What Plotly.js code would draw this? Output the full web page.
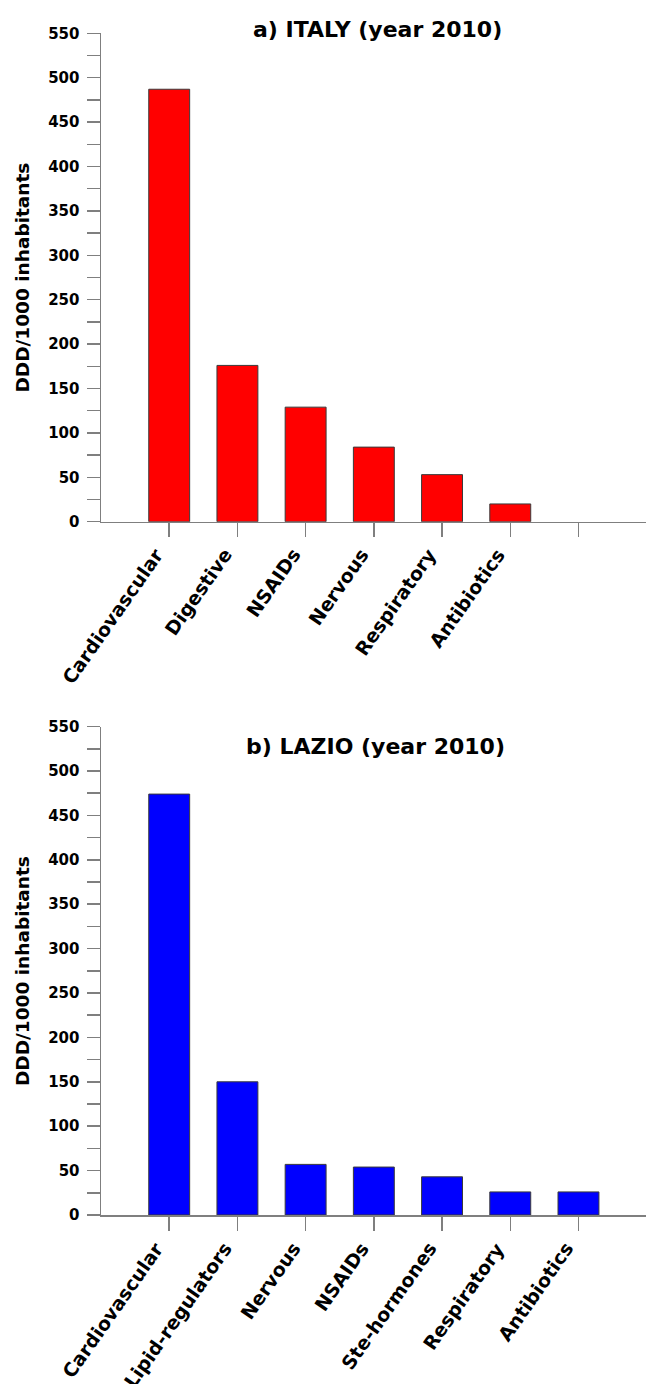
<!DOCTYPE html>
<html>
<head>
<meta charset="utf-8">
<script src="https://cdn.plot.ly/plotly-3.0.1.min.js"></script>
<style>html,body{margin:0;padding:0;background:#fff;}#chart{width:646px;height:1384px;}</style>
</head>
<body>
<div id="chart"></div>
<script>
// ---- data ----
const italyCategories = ["Cardiovascular", "Digestive", "NSAIDs", "Nervous", "Respiratory", "Antibiotics"];
const italyValues = [487, 176, 129, 84, 53, 20];
const lazioCategories = ["Cardiovascular", "Lipid-regulators", "Nervous", "NSAIDs", "Ste-hormones", "Respiratory", "Antibiotics"];
const lazioValues = [474, 150, 57, 54, 43, 26, 26];
const titleA = "a) ITALY (year 2010)";
const titleB = "b) LAZIO (year 2010)";
const yTitle = "DDD/1000 inhabitants";

// ---- layout helpers ----
const W = 646, H = 1384;
const FONT = "DejaVu Sans, Liberation Sans, Arial, sans-serif";
const GREY = "#7f7f7f";
const px2y = p => 1 - p / H;

const nTicks = 7; // both panels show 7 category ticks
const tickIdx = Array.from({length: nTicks}, (_, i) => i);

function xAxis(anchor) {
  return {
    anchor: anchor,
    domain: [101 / W, 1],
    range: [-1, 6.99],
    tickmode: "array",
    tickvals: tickIdx,
    showticklabels: false,
    ticks: "outside",
    ticklen: 14,
    tickwidth: 1.5,
    tickcolor: GREY,
    showline: true,
    linecolor: GREY,
    linewidth: 1.5,
    showgrid: false,
    zeroline: false,
    fixedrange: true
  };
}
function yAxis(anchor, top, bottom) {
  return {
    anchor: anchor,
    domain: [px2y(bottom), px2y(top)],
    range: [0, 550],
    tick0: 0,
    dtick: 50,
    ticks: "outside",
    ticklen: 13,
    tickwidth: 1.5,
    tickcolor: GREY,
    minor: {dtick: 25, tick0: 0, ticks: "outside", ticklen: 13, tickwidth: 1.5, tickcolor: GREY, showgrid: false},
    showline: true,
    linecolor: GREY,
    linewidth: 1.5,
    showgrid: false,
    zeroline: false,
    fixedrange: true,
    ticklabelstandoff: 4,
    tickfont: {family: FONT, size: 15, color: "#000", weight: "bold"}
  };
}

const traces = [
  {
    type: "bar",
    x: italyValues.map((_, i) => i),
    y: italyValues,
    width: 0.6,
    marker: {color: "#ff0000", line: {color: "#3a3a3a", width: 1}},
    xaxis: "x", yaxis: "y",
    hoverinfo: "skip"
  },
  {
    type: "bar",
    x: lazioValues.map((_, i) => i),
    y: lazioValues,
    width: 0.6,
    marker: {color: "#0000ff", line: {color: "#3a3a3a", width: 1}},
    xaxis: "x2", yaxis: "y2",
    hoverinfo: "skip"
  }
];

const labelFont = {family: FONT, size: 19, color: "#000", weight: "bold"};
function catLabels(cats, xref, topPx) {
  return cats.map((c, i) => ({
    text: c, xref: xref, yref: "paper", x: i, y: px2y(topPx),
    xanchor: "right", yanchor: "top", textangle: -55, showarrow: false,
    xshift: 0, borderpad: 0, font: labelFont
  }));
}

const layout = {
  width: W, height: H,
  margin: {l: 0, r: 0, t: 0, b: 0, pad: 0},
  paper_bgcolor: "#fff", plot_bgcolor: "#fff",
  showlegend: false,
  xaxis: xAxis("y"),
  yaxis: yAxis("x", 33.3, 521.7),
  xaxis2: xAxis("y2"),
  yaxis2: yAxis("x2", 726.6, 1215),
  annotations: [
    {text: titleA, xref: "paper", yref: "paper", x: 377 / W, y: px2y(29), xanchor: "center", yanchor: "middle", showarrow: false,
     font: {family: FONT, size: 22, color: "#000", weight: "bold"}},
    {text: titleB, xref: "paper", yref: "paper", x: 375 / W, y: px2y(746), xanchor: "center", yanchor: "middle", showarrow: false,
     font: {family: FONT, size: 22, color: "#000", weight: "bold"}},
    {text: yTitle, xref: "paper", yref: "paper", x: 22 / W, y: px2y(277.5), xanchor: "center", yanchor: "middle", textangle: -90, showarrow: false,
     font: {family: FONT, size: 18.5, color: "#000", weight: "bold"}},
    {text: yTitle, xref: "paper", yref: "paper", x: 22 / W, y: px2y(971), xanchor: "center", yanchor: "middle", textangle: -90, showarrow: false,
     font: {family: FONT, size: 18.5, color: "#000", weight: "bold"}}
  ].concat(catLabels(italyCategories, "x", 543), catLabels(lazioCategories, "x2", 1237))
};

Plotly.newPlot("chart", traces, layout, {staticPlot: true, displayModeBar: false});
</script>
</body>
</html>
